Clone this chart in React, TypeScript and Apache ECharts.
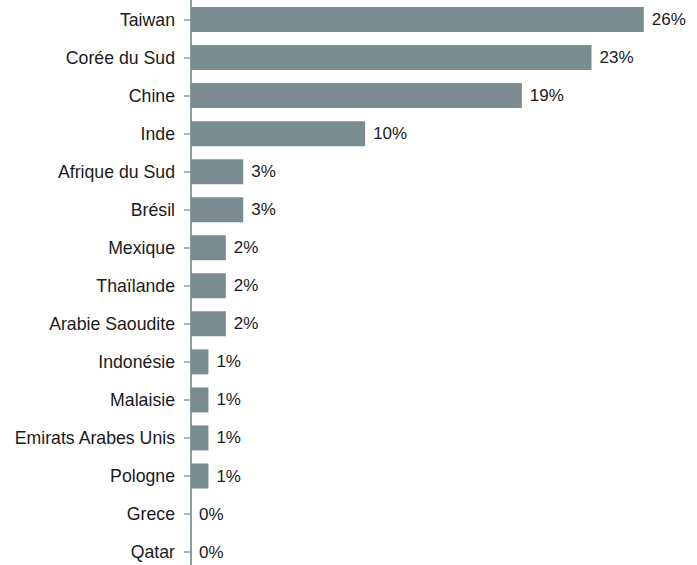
import React, { useEffect, useRef } from "react";
import * as echarts from "echarts";

const categories = [
  "Taiwan",
  "Corée du Sud",
  "Chine",
  "Inde",
  "Afrique du Sud",
  "Brésil",
  "Mexique",
  "Thaïlande",
  "Arabie Saoudite",
  "Indonésie",
  "Malaisie",
  "Emirats Arabes Unis",
  "Pologne",
  "Grece",
  "Qatar",
];
const values = [26, 23, 19, 10, 3, 3, 2, 2, 2, 1, 1, 1, 1, 0, 0];

export default function App() {
  const ref = useRef<HTMLDivElement>(null);
  useEffect(() => {
    if (!ref.current) return;
    const chart = echarts.init(ref.current, undefined, { renderer: "svg" });
    chart.setOption({
      animation: false,
      textStyle: { fontFamily: "Liberation Sans, Arial, sans-serif" },
      grid: { left: 191, top: 0.5, height: 570.6, width: 505 },
      xAxis: { type: "value", min: 0, max: 29, show: false },
      yAxis: {
        type: "category",
        data: categories,
        inverse: true,
        axisLine: { show: true, lineStyle: { color: "#8d9ca3", width: 2 } },
        axisTick: { show: true, alignWithLabel: true, length: 7, lineStyle: { color: "#8d9ca3", width: 1.5 } },
        axisLabel: { margin: 16, fontSize: 17.7, color: "#1a1a1a", fontFamily: "Liberation Sans, Arial, sans-serif" },
        splitLine: { show: false },
      },
      series: [
        {
          type: "bar",
          data: values,
          barWidth: 25,
          itemStyle: { color: "#7a8b92" },
          label: {
            show: true,
            position: "right",
            distance: 8,
            formatter: (p: any) => `${p.value}%`,
            fontSize: 17,
            color: "#1a1a1a",
            fontFamily: "Liberation Sans, Arial, sans-serif",
          },
        },
      ],
    });
    return () => chart.dispose();
  }, []);
  return (
    <div
      ref={ref}
      style={{ position: "absolute", left: 0, top: 0, width: 697, height: 580 }}
    />
  );
}
